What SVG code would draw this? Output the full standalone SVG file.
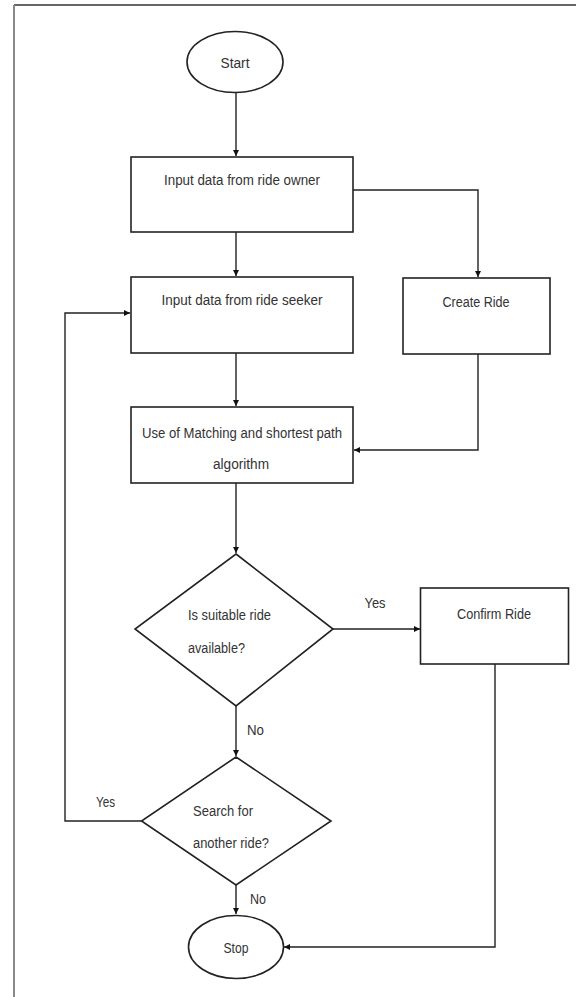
<svg xmlns="http://www.w3.org/2000/svg" width="576" height="997" viewBox="0 0 576 997">
<style>
.shape{fill:#fff;stroke:#222;stroke-width:1.6}
.conn{fill:none;stroke:#222;stroke-width:1.4}
text{font-family:"Liberation Sans","DejaVu Sans",sans-serif;font-size:15.5px;fill:#333}
.c{text-anchor:middle}
</style>
<defs>
<marker id="arr" viewBox="0 0 10 10" refX="10" refY="5" markerWidth="6" markerHeight="6" markerUnits="userSpaceOnUse" orient="auto">
<path d="M0,0 L10,5 L0,10 z" fill="#111"/>
</marker>
</defs>
<rect width="576" height="997" fill="#fff"/>
<g id="frame">
<line x1="14" y1="5" x2="576" y2="5" stroke="#666" stroke-width="2"/>
<line x1="14" y1="5" x2="14" y2="997" stroke="#888" stroke-width="2"/>
</g>
<g id="connectors">
<path class="conn" d="M236,93 V156" marker-end="url(#arr)"/>
<path class="conn" d="M236,232 V276" marker-end="url(#arr)"/>
<path class="conn" d="M353,190 H478 V277" marker-end="url(#arr)"/>
<path class="conn" d="M236,353 V406" marker-end="url(#arr)"/>
<path class="conn" d="M478,354 V450 H354" marker-end="url(#arr)"/>
<path class="conn" d="M236,483 V553" marker-end="url(#arr)"/>
<path class="conn" d="M333,629 H420" marker-end="url(#arr)"/>
<path class="conn" d="M236,706 V756" marker-end="url(#arr)"/>
<path class="conn" d="M141.5,821 H65 V313 H130" marker-end="url(#arr)"/>
<path class="conn" d="M236,885 V914" marker-end="url(#arr)"/>
<path class="conn" d="M495,664 V947 H284" marker-end="url(#arr)"/>
</g>
<g id="labels">
<text x="375" y="608" class="c" textLength="21" lengthAdjust="spacingAndGlyphs">Yes</text>
<text x="247" y="735" textLength="17" lengthAdjust="spacingAndGlyphs">No</text>
<text x="96" y="807" textLength="19" lengthAdjust="spacingAndGlyphs">Yes</text>
<text x="250" y="904" textLength="16" lengthAdjust="spacingAndGlyphs">No</text>
</g>
<g id="start">
<ellipse class="shape" cx="235" cy="62" rx="48" ry="30.5"/>
<text x="235" y="67.5" class="c" textLength="29" lengthAdjust="spacingAndGlyphs">Start</text>
</g>
<g id="owner">
<rect class="shape" x="131" y="157" width="222" height="75"/>
<text x="242" y="184.5" class="c" textLength="156" lengthAdjust="spacingAndGlyphs">Input data from ride owner</text>
</g>
<g id="seeker">
<rect class="shape" x="131" y="277" width="222" height="76"/>
<text x="242" y="304.5" class="c" textLength="161" lengthAdjust="spacingAndGlyphs">Input data from ride seeker</text>
</g>
<g id="create">
<rect class="shape" x="403" y="278" width="147" height="76"/>
<text x="476" y="306.5" class="c" textLength="67" lengthAdjust="spacingAndGlyphs">Create Ride</text>
</g>
<g id="matching">
<rect class="shape" x="131" y="407" width="222" height="76"/>
<text x="242" y="437.5" class="c" textLength="200" lengthAdjust="spacingAndGlyphs">Use of Matching and shortest path</text>
<text x="241" y="468.5" class="c" textLength="56" lengthAdjust="spacingAndGlyphs">algorithm</text>
</g>
<g id="suitable">
<polygon class="shape" points="236,554 333,629 236,706 135,629"/>
<text x="188" y="619.5" textLength="83" lengthAdjust="spacingAndGlyphs">Is suitable ride</text>
<text x="188" y="652.5" textLength="57" lengthAdjust="spacingAndGlyphs">available?</text>
</g>
<g id="confirm">
<rect class="shape" x="420.5" y="588" width="148" height="76"/>
<text x="494" y="618.5" class="c" textLength="74" lengthAdjust="spacingAndGlyphs">Confirm Ride</text>
</g>
<g id="search">
<polygon class="shape" points="236,757 331,821 236,885 141.5,821"/>
<text x="193" y="815.5" textLength="60" lengthAdjust="spacingAndGlyphs">Search for</text>
<text x="193" y="847.5" textLength="76" lengthAdjust="spacingAndGlyphs">another ride?</text>
</g>
<g id="stop">
<ellipse class="shape" cx="236" cy="947" rx="47.5" ry="31.5"/>
<text x="236" y="952.5" class="c" textLength="25" lengthAdjust="spacingAndGlyphs">Stop</text>
</g>
</svg>
